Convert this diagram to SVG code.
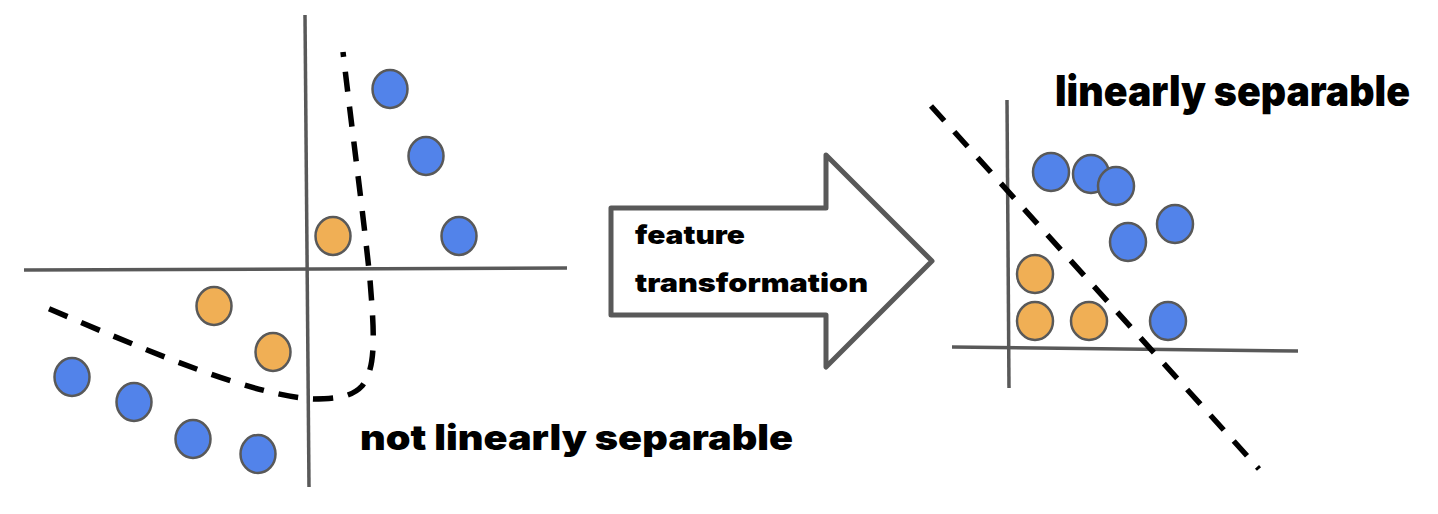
<svg xmlns="http://www.w3.org/2000/svg" width="1438" height="514" viewBox="0 0 1438 514">
<style>
.axis{stroke:#595959;stroke-width:3.5;fill:none}
.dash{stroke:#000;stroke-width:5.5;fill:none;stroke-dasharray:20 15}
.blue{fill:#5283EA;stroke:#595959;stroke-width:2.5}
.orange{fill:#F0AF55;stroke:#595959;stroke-width:2.5}
.lbl{font-family:Inter,"Liberation Sans",sans-serif;font-weight:900;fill:#000}
.arrow{fill:#fff;stroke:#595959;stroke-width:5;stroke-linejoin:round}
</style>
<rect width="1438" height="514" fill="#fff"/>
<g id="left-plot">
<line class="axis" x1="305" y1="15" x2="309" y2="487"/>
<line class="axis" x1="24" y1="270" x2="567" y2="268"/>
<path class="dash" d="M343,52 C352,130 364,220 370,280 C374,330 377,368 362,386 C352,397 335,399 313,399 C250,395 150,352 45,307" stroke-dashoffset="15"/>
<g id="left-points">
<ellipse class="blue" cx="390" cy="89" rx="17.5" ry="19"/>
<ellipse class="blue" cx="426" cy="156" rx="17.5" ry="19"/>
<ellipse class="blue" cx="459" cy="236" rx="17.5" ry="19"/>
<ellipse class="blue" cx="72" cy="377" rx="17.5" ry="19"/>
<ellipse class="blue" cx="134" cy="402" rx="17.5" ry="19"/>
<ellipse class="blue" cx="193" cy="439" rx="17.5" ry="19"/>
<ellipse class="blue" cx="258" cy="454" rx="17.5" ry="19"/>
<ellipse class="orange" cx="333" cy="236" rx="17.5" ry="19"/>
<ellipse class="orange" cx="214" cy="306" rx="17.5" ry="19"/>
<ellipse class="orange" cx="273" cy="352" rx="17.5" ry="19"/>
</g>
<text id="label-not" class="lbl" x="360" y="450" font-size="35" textLength="433" lengthAdjust="spacingAndGlyphs">not linearly separable</text>
</g>
<g id="transform-arrow">
<polygon class="arrow" points="611,208 826,208 826,155 932,261 826,367 826,315 611,315"/>
<text class="lbl" x="635" y="244" font-size="26" font-weight="800" textLength="110" lengthAdjust="spacingAndGlyphs">feature</text>
<text class="lbl" x="635" y="292" font-size="26" font-weight="800" textLength="233" lengthAdjust="spacingAndGlyphs">transformation</text>
</g>
<g id="right-plot">
<line class="axis" x1="1007" y1="100" x2="1009" y2="388"/>
<line class="axis" x1="952" y1="347" x2="1298" y2="351"/>
<path class="dash" d="M931,106 L1259,469" pathLength="493" stroke-dasharray="29 17.4"/>
<g id="right-points">
<ellipse class="blue" cx="1051" cy="172" rx="18" ry="19"/>
<ellipse class="blue" cx="1091" cy="174" rx="18" ry="19"/>
<ellipse class="blue" cx="1116" cy="186" rx="18" ry="19"/>
<ellipse class="blue" cx="1128" cy="242" rx="18" ry="19"/>
<ellipse class="blue" cx="1175" cy="224" rx="18" ry="19"/>
<ellipse class="blue" cx="1168" cy="321" rx="18" ry="19"/>
<ellipse class="orange" cx="1035" cy="274" rx="18" ry="19"/>
<ellipse class="orange" cx="1035" cy="321" rx="18" ry="19"/>
<ellipse class="orange" cx="1089" cy="321" rx="18" ry="19"/>
</g>
<text id="label-lin" class="lbl" x="1055" y="106" font-size="42" textLength="355" lengthAdjust="spacingAndGlyphs">linearly separable</text>
</g>
</svg>
